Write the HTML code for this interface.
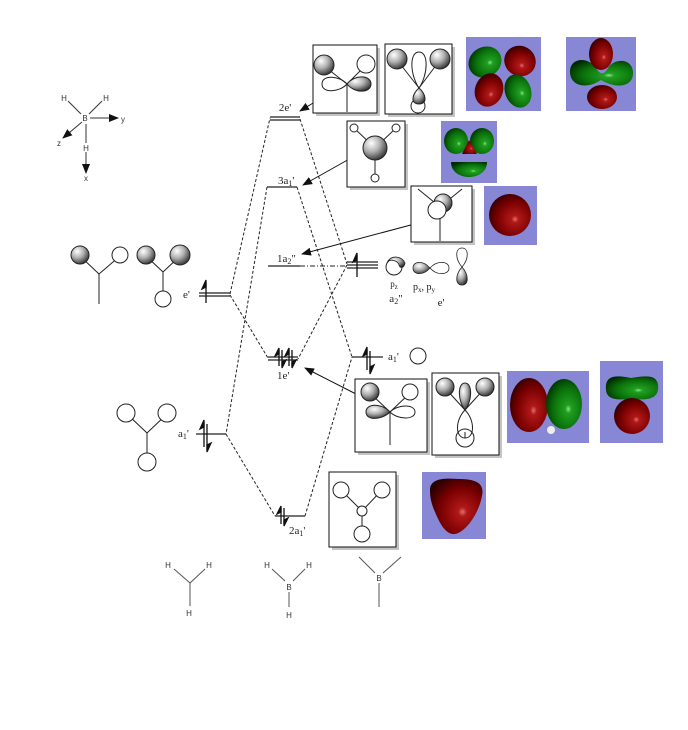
<!DOCTYPE html>
<html><head><meta charset="utf-8"><style>
html,body{margin:0;padding:0;background:#fff;}
svg{display:block;}
.s{font-family:"Liberation Serif",serif;fill:#222;}
.a{font-family:"Liberation Sans",sans-serif;fill:#333;font-size:8px;}
</style></head><body>
<svg width="688" height="730" viewBox="0 0 688 730" xmlns="http://www.w3.org/2000/svg">
<defs>
<radialGradient id="sph" cx="0.35" cy="0.3" r="0.8">
<stop offset="0" stop-color="#ffffff"/><stop offset="0.45" stop-color="#b0b0b0"/><stop offset="1" stop-color="#1e1e1e"/>
</radialGradient>
<radialGradient id="red" cx="0.62" cy="0.6" r="0.7">
<stop offset="0" stop-color="#e07070"/><stop offset="0.12" stop-color="#b01818"/><stop offset="0.6" stop-color="#7a0000"/><stop offset="1" stop-color="#2a0000"/>
</radialGradient>
<radialGradient id="grn" cx="0.62" cy="0.6" r="0.7">
<stop offset="0" stop-color="#90e090"/><stop offset="0.12" stop-color="#20a020"/><stop offset="0.6" stop-color="#0a700a"/><stop offset="1" stop-color="#002a00"/>
</radialGradient>
<marker id="ah" markerWidth="10" markerHeight="8" refX="9" refY="4" orient="auto" markerUnits="userSpaceOnUse">
<path d="M0,0 L10,4 L0,8 Z" fill="#111"/>
</marker>
</defs>

<!-- axes -->
<g stroke="#333" stroke-width="1" fill="none">
<line x1="68" y1="101" x2="81" y2="114"/>
<line x1="102" y1="101" x2="89" y2="114"/>
<line x1="90" y1="118" x2="118" y2="118" marker-end="url(#ah)"/>
<line x1="82" y1="122" x2="63" y2="138" marker-end="url(#ah)"/>
<line x1="86" y1="124" x2="86" y2="143"/>
<line x1="86" y1="152" x2="86" y2="173" marker-end="url(#ah)"/>
</g>
<text class="a" x="64" y="101" text-anchor="middle">H</text>
<text class="a" x="106" y="101" text-anchor="middle">H</text>
<text class="a" x="85" y="121" text-anchor="middle">B</text>
<text class="a" x="86" y="151" text-anchor="middle">H</text>
<text class="a" x="123" y="122" text-anchor="middle" font-size="10">y</text>
<text class="a" x="59" y="146" text-anchor="middle" font-size="10">z</text>
<text class="a" x="86" y="181" text-anchor="middle" font-size="10">x</text>

<!-- dashed connectors -->
<g stroke="#222" stroke-width="1" stroke-dasharray="3,2" fill="none">
<line x1="230" y1="294" x2="270" y2="118"/>
<line x1="230" y1="295" x2="268" y2="358"/>
<line x1="300" y1="119" x2="347" y2="264"/>
<line x1="297" y1="187" x2="352" y2="357"/>
<line x1="347" y1="265" x2="298" y2="359"/>
<line x1="267" y1="187" x2="226" y2="434"/>
<line x1="226" y1="434" x2="275" y2="516"/>
<line x1="305" y1="516" x2="352" y2="357"/>
<line x1="300" y1="266" x2="346" y2="266" stroke-dasharray="5,2,1,2"/>
</g>

<!-- levels -->
<g stroke="#222" stroke-width="1.2">
<line x1="270" y1="117" x2="300" y2="117"/>
<line x1="270" y1="120" x2="300" y2="120"/>
<line x1="267" y1="187" x2="297" y2="187"/>
<line x1="268" y1="266" x2="300" y2="266"/>
<line x1="268" y1="357" x2="298" y2="357"/>
<line x1="268" y1="360" x2="298" y2="360"/>
<line x1="275" y1="516" x2="305" y2="516"/>
<line x1="199" y1="293" x2="230" y2="293"/>
<line x1="199" y1="296" x2="230" y2="296"/>
<line x1="196" y1="434" x2="226" y2="434"/>
<line x1="347" y1="262" x2="378" y2="262"/>
<line x1="347" y1="265" x2="378" y2="265"/>
<line x1="347" y1="268" x2="378" y2="268"/>
<line x1="352" y1="357" x2="383" y2="357"/>
</g>

<!-- electrons -->
<g stroke="#111" stroke-width="1.3" fill="#111">
<line x1="206" y1="303" x2="206" y2="282"/><path d="M206,280 L202,289 L206,287 Z"/>
<line x1="204" y1="447" x2="204" y2="422"/><path d="M204,420 L200,429 L204,427 Z"/>
<line x1="207" y1="424" x2="207" y2="450"/><path d="M207,452 L211,443 L207,445 Z"/>
<line x1="357" y1="277" x2="357" y2="255"/><path d="M357,253 L353,262 L357,260 Z"/>
<line x1="367" y1="370" x2="367" y2="349"/><path d="M367,347 L363,356 L367,354 Z"/>
<line x1="370" y1="351" x2="370" y2="372"/><path d="M370,374 L374,365 L370,367 Z"/>
<line x1="279" y1="366" x2="279" y2="350"/><path d="M279,348 L275,356 L279,354 Z"/>
<line x1="282" y1="350" x2="282" y2="366"/><path d="M282,368 L286,360 L282,362 Z"/>
<line x1="289" y1="366" x2="289" y2="350"/><path d="M289,348 L285,356 L289,354 Z"/>
<line x1="292" y1="350" x2="292" y2="366"/><path d="M292,368 L296,360 L292,362 Z"/>
<line x1="281" y1="524" x2="281" y2="508"/><path d="M281,506 L277,514 L281,512 Z"/>
<line x1="284" y1="508" x2="284" y2="524"/><path d="M284,526 L288,518 L284,520 Z"/>
</g>

<!-- level labels -->
<text class="s" x="285" y="111" font-size="11" text-anchor="middle">2e'</text>
<text class="s" x="278" y="184" font-size="11">3a<tspan font-size="8" dy="2">1</tspan><tspan dy="-2">'</tspan></text>
<text class="s" x="277" y="262" font-size="11">1a<tspan font-size="8" dy="2">2</tspan><tspan dy="-2">"</tspan></text>
<text class="s" x="277" y="379" font-size="11">1e'</text>
<text class="s" x="289" y="534" font-size="11">2a<tspan font-size="8" dy="2">1</tspan><tspan dy="-2">'</tspan></text>
<text class="s" x="183" y="298" font-size="11">e'</text>
<text class="s" x="178" y="437" font-size="11">a<tspan font-size="8" dy="2">1</tspan><tspan dy="-2">'</tspan></text>
<text class="s" x="388" y="360" font-size="11">a<tspan font-size="8" dy="2">1</tspan><tspan dy="-2">'</tspan></text>
<circle cx="418" cy="356" r="8" fill="#fff" stroke="#222"/>

<!-- B p orbitals -->
<circle cx="394" cy="267" r="8" fill="#fff" stroke="#222"/>
<path d="M388,261 C392,255 402,256 405,263 C404,268 400,269 399,265 C398,261 392,259 388,261 Z" fill="url(#sph)" stroke="#222" stroke-width="0.8"/>
<path d="M430,268 C423,260 413,261 413,268 C413,275 423,276 430,268 Z" fill="url(#sph)" stroke="#222" stroke-width="0.8"/>
<path d="M430,268 C437,260 449,261 449,268 C449,275 437,276 430,268 Z" fill="#fff" stroke="#222" stroke-width="0.8"/>
<path d="M462,267 C455,259 455,248 462,248 C469,248 469,259 462,267 Z" fill="#fff" stroke="#222" stroke-width="0.8"/>
<path d="M462,267 C455,275 455,285 462,285 C469,285 469,275 462,267 Z" fill="url(#sph)" stroke="#222" stroke-width="0.8"/>
<text class="s" x="394" y="287" font-size="9" text-anchor="middle">p<tspan font-size="7" dy="2">z</tspan></text>
<text class="s" x="396" y="302" font-size="11" text-anchor="middle">a<tspan font-size="8" dy="2">2</tspan><tspan dy="-2">"</tspan></text>
<text class="s" x="424" y="290" font-size="10" text-anchor="middle">p<tspan font-size="7" dy="2">x</tspan><tspan dy="-2">, p</tspan><tspan font-size="7" dy="2">y</tspan></text>
<text class="s" x="441" y="306" font-size="11" text-anchor="middle">e'</text>

<!-- arrows -->
<g stroke="#111" stroke-width="1" fill="none">
<line x1="323" y1="97" x2="300" y2="111" marker-end="url(#ah)"/>
<line x1="360" y1="153" x2="303" y2="185" marker-end="url(#ah)"/>
<line x1="422" y1="222" x2="302" y2="254" marker-end="url(#ah)"/>
<line x1="356" y1="394" x2="305" y2="368" marker-end="url(#ah)"/>
</g>

<!-- left fragment orbitals -->
<g stroke="#222" stroke-width="1" fill="#fff">
<line x1="80" y1="256" x2="99" y2="274"/><line x1="120" y1="256" x2="99" y2="274"/><line x1="99" y1="274" x2="99" y2="304"/>
<circle cx="80" cy="255" r="9" fill="url(#sph)"/><circle cx="120" cy="255" r="8"/>
<line x1="146" y1="256" x2="163" y2="272"/><line x1="180" y1="256" x2="163" y2="272"/><line x1="163" y1="272" x2="163" y2="291"/>
<circle cx="146" cy="255" r="9" fill="url(#sph)"/><circle cx="180" cy="255" r="10" fill="url(#sph)"/><circle cx="163" cy="299" r="8"/>
<line x1="127" y1="414" x2="147" y2="433"/><line x1="167" y1="414" x2="147" y2="433"/><line x1="147" y1="433" x2="147" y2="453"/>
<circle cx="126" cy="413" r="9"/><circle cx="167" cy="413" r="9"/><circle cx="147" cy="462" r="9"/>
</g>

<!-- boxes with shadows -->
<g fill="#c4c4c4">
<rect x="316" y="48" width="64" height="68"/>
<rect x="388" y="47" width="67" height="70"/>
<rect x="350" y="124" width="58" height="66"/>
<rect x="414" y="189" width="61" height="56"/>
<rect x="358" y="382" width="72" height="73"/>
<rect x="435" y="376" width="67" height="82"/>
<rect x="332" y="475" width="67" height="75"/>
</g>
<g fill="#fff" stroke="#111" stroke-width="1">
<rect x="313" y="45" width="64" height="68"/>
<rect x="385" y="44" width="67" height="70"/>
<rect x="347" y="121" width="58" height="66"/>
<rect x="411" y="186" width="61" height="56"/>
<rect x="355" y="379" width="72" height="73"/>
<rect x="432" y="373" width="67" height="82"/>
<rect x="329" y="472" width="67" height="75"/>
</g>

<!-- box A -->
<g stroke="#222" stroke-width="1" fill="#fff">
<line x1="324" y1="66" x2="347" y2="84"/><line x1="366" y1="65" x2="347" y2="84"/><line x1="347" y1="84" x2="347" y2="112"/>
<path d="M347,84 C340,76 322,74 322,84 C322,94 340,92 347,84 Z" fill="none"/>
<path d="M347,84 C355,74 371,75 371,84 C371,93 355,94 347,84 Z" fill="url(#sph)"/>
<circle cx="324" cy="65" r="10" fill="url(#sph)"/><circle cx="366" cy="64" r="9"/>
</g>
<!-- box B -->
<g stroke="#222" stroke-width="1" fill="#fff">
<line x1="397" y1="60" x2="419" y2="88"/><line x1="440" y1="60" x2="419" y2="88"/>
<path d="M419,88 C410,75 409,52 419,52 C429,52 428,75 419,88 Z" fill="none"/>
<circle cx="418" cy="106" r="7"/>
<path d="M419,88 C412,94 410,104 419,104 C428,104 426,94 419,88 Z" fill="url(#sph)"/>
<circle cx="397" cy="59" r="10" fill="url(#sph)"/><circle cx="440" cy="59" r="10" fill="url(#sph)"/>
</g>
<!-- box E -->
<g stroke="#222" stroke-width="1" fill="#fff">
<line x1="354" y1="128" x2="375" y2="148"/><line x1="396" y1="128" x2="375" y2="148"/><line x1="375" y1="148" x2="375" y2="174"/>
<circle cx="354" cy="128" r="4"/><circle cx="396" cy="128" r="4"/><circle cx="375" cy="178" r="4"/>
<circle cx="375" cy="148" r="12" fill="url(#sph)"/>
</g>
<!-- box G -->
<g stroke="#222" stroke-width="1" fill="#fff">
<line x1="418" y1="189" x2="440" y2="207"/><line x1="462" y1="189" x2="440" y2="207"/><line x1="440" y1="215" x2="440" y2="241"/>
<circle cx="443" cy="203" r="9" fill="url(#sph)"/><circle cx="437" cy="210" r="9"/>
</g>
<!-- box I -->
<g stroke="#222" stroke-width="1" fill="#fff">
<line x1="370" y1="393" x2="390" y2="412"/><line x1="410" y1="393" x2="390" y2="412"/><line x1="390" y1="412" x2="390" y2="445"/>
<path d="M390,412 C382,403 366,403 366,412 C366,421 382,420 390,412 Z" fill="url(#sph)"/>
<path d="M390,412 C398,404 415,404 415,412 C415,420 398,420 390,412 Z" fill="none"/>
<circle cx="370" cy="392" r="9" fill="url(#sph)"/><circle cx="410" cy="392" r="8"/>
</g>
<!-- box J -->
<g stroke="#222" stroke-width="1" fill="#fff">
<line x1="445" y1="388" x2="465" y2="410"/><line x1="485" y1="388" x2="465" y2="410"/>
<circle cx="465" cy="438" r="9"/>
<path d="M465,410 C455,420 455,438 465,438 C475,438 475,420 465,410 Z" fill="none"/>
<line x1="465" y1="432" x2="465" y2="438"/>
<path d="M465,410 C458,402 457,383 465,383 C473,383 472,402 465,410 Z" fill="url(#sph)"/>
<circle cx="445" cy="387" r="9" fill="url(#sph)"/><circle cx="485" cy="387" r="9" fill="url(#sph)"/>
</g>
<!-- box M -->
<g stroke="#222" stroke-width="1" fill="#fff">
<line x1="341" y1="490" x2="362" y2="511"/><line x1="382" y1="490" x2="362" y2="511"/><line x1="362" y1="511" x2="362" y2="534"/>
<circle cx="341" cy="490" r="8"/><circle cx="382" cy="490" r="8"/><circle cx="362" cy="511" r="5"/><circle cx="362" cy="534" r="8"/>
</g>

<!-- colored orbital panels -->
<g fill="#8787d5">
<rect x="466" y="37" width="75" height="74"/>
<rect x="566" y="37" width="70" height="74"/>
<rect x="441" y="121" width="56" height="62"/>
<rect x="484" y="186" width="53" height="59"/>
<rect x="507" y="371" width="82" height="72"/>
<rect x="600" y="361" width="63" height="82"/>
<rect x="422" y="472" width="64" height="67"/>
</g>
<!-- C -->
<ellipse cx="485" cy="62" rx="17" ry="15" transform="rotate(-30 485 62)" fill="url(#grn)"/>
<ellipse cx="520" cy="61" rx="16" ry="15" transform="rotate(30 520 61)" fill="url(#red)"/>
<ellipse cx="489" cy="90" rx="14" ry="17" transform="rotate(20 489 90)" fill="url(#red)"/>
<ellipse cx="518" cy="91" rx="13" ry="17" transform="rotate(-20 518 91)" fill="url(#grn)"/>
<!-- D -->
<path d="M570,70 C572,56 590,58 596,68 C600,75 604,75 608,68 C614,58 632,58 633,72 C634,86 618,90 601,80 C586,90 569,86 570,70 Z" fill="url(#grn)"/>
<ellipse cx="601" cy="54" rx="12" ry="16" fill="url(#red)"/>
<ellipse cx="602" cy="97" rx="15" ry="12" fill="url(#red)"/>
<!-- F -->
<ellipse cx="456" cy="141" rx="12" ry="13" fill="url(#grn)"/>
<ellipse cx="482" cy="141" rx="12" ry="13" fill="url(#grn)"/>
<path d="M462,154 L469,140 L477,154 Z" fill="url(#red)"/>
<path d="M451,162 L487,162 C487,172 478,177 469,177 C460,177 451,172 451,162 Z" fill="url(#grn)"/>
<!-- H -->
<circle cx="510" cy="215" r="21" fill="url(#red)"/>
<!-- K -->
<ellipse cx="529" cy="405" rx="19" ry="27" fill="url(#red)"/>
<ellipse cx="564" cy="404" rx="18" ry="25" fill="url(#grn)"/>
<circle cx="551" cy="430" r="4" fill="#eee"/>
<!-- L -->
<path d="M606,390 C604,373 620,376 631,378 C645,376 660,373 658,390 C656,400 645,400 631,399 C617,400 607,400 606,390 Z" fill="url(#grn)"/>
<circle cx="632" cy="416" r="18" fill="url(#red)"/>
<!-- N -->
<path d="M430,490 C430,478 445,478 458,479 C474,479 485,482 482,496 C479,513 466,532 455,534 C446,535 440,524 435,512 C431,503 430,497 430,490 Z" fill="url(#red)"/>

<!-- bottom molecules -->
<g stroke="#555" stroke-width="1">
<line x1="174" y1="569" x2="190" y2="583"/><line x1="205" y1="569" x2="190" y2="583"/><line x1="190" y1="583" x2="190" y2="606"/>
<line x1="272" y1="569" x2="285" y2="581"/><line x1="305" y1="569" x2="293" y2="581"/><line x1="289" y1="592" x2="289" y2="607"/>
<line x1="359" y1="557" x2="375" y2="573"/><line x1="401" y1="557" x2="383" y2="573"/><line x1="379" y1="583" x2="379" y2="607"/>
</g>
<text class="a" x="168" y="568" text-anchor="middle">H</text>
<text class="a" x="209" y="568" text-anchor="middle">H</text>
<text class="a" x="189" y="616" text-anchor="middle">H</text>
<text class="a" x="267" y="568" text-anchor="middle">H</text>
<text class="a" x="309" y="568" text-anchor="middle">H</text>
<text class="a" x="289" y="590" text-anchor="middle">B</text>
<text class="a" x="289" y="618" text-anchor="middle">H</text>
<text class="a" x="379" y="581" text-anchor="middle">B</text>
</svg>
</body></html>
